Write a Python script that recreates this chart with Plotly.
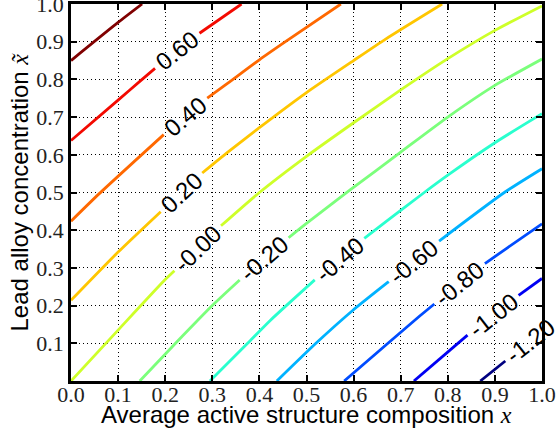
import numpy as np
import plotly.graph_objects as go

# ---------------- data ----------------
levels = [0.8, 0.6, 0.4, 0.2, 0.0, -0.2, -0.4, -0.6, -0.8, -1.0, -1.2]

line_x = [
    [0.0, 0.1, 0.151],
    [0.0, 0.1, 0.151, 0.181, 0.27, 0.362],
    [0.0, 0.06, 0.199, 0.287, 0.333, 0.4, 0.453, 0.573],
    [0.0, 0.1, 0.192, 0.277, 0.333, 0.4, 0.5, 0.6, 0.668, 0.788],
    [0.0, 0.1, 0.2, 0.317, 0.4, 0.5, 0.6, 0.7, 0.8, 0.9, 1.0],
    [0.146, 0.222, 0.3, 0.361, 0.46, 0.5, 0.594, 0.7, 0.8, 0.9, 1.0],
    [0.295, 0.375, 0.4225, 0.52, 0.619, 0.668, 0.75, 0.8, 0.9, 1.0],
    [0.437, 0.52, 0.598, 0.674, 0.778, 0.92, 1.0],
    [0.58, 0.668, 0.741, 0.774, 0.876, 0.925, 1.0],
    [0.728, 0.844, 0.947, 1.0],
    [0.869, 0.924, 1.0],
]
line_y = [
    [0.85, 0.951, 1.0],
    [0.638, 0.745, 0.8, 0.832, 0.92, 1.0],
    [0.424, 0.497, 0.656, 0.748, 0.79, 0.852, 0.898, 1.0],
    [0.214, 0.342, 0.451, 0.55, 0.607, 0.672, 0.765, 0.85, 0.907, 1.0],
    [0.0, 0.135, 0.269, 0.41, 0.5, 0.596, 0.685, 0.772, 0.855, 0.93, 0.995],
    [0.0, 0.1, 0.2, 0.271, 0.378, 0.418, 0.508, 0.607, 0.70, 0.784, 0.854],
    [0.0, 0.1, 0.16, 0.271, 0.375, 0.422, 0.5, 0.546, 0.632, 0.709],
    [0.0, 0.1, 0.187, 0.263, 0.368, 0.5, 0.563],
    [0.0, 0.095, 0.173, 0.207, 0.309, 0.352, 0.417],
    [0.0, 0.124, 0.224, 0.272],
    [0.0, 0.055, 0.13],
]
label_text = [None, "0.60", "0.40", "0.20", "-0.00", "-0.20", "-0.40",
              "-0.60", "-0.80", "-1.00", "-1.20"]
label_x = [None, 0.2255, 0.243, 0.2345, 0.269, 0.41, 0.57, 0.728, 0.825, 0.896, 0.976]

x_ticks = [0.0, 0.1, 0.2, 0.3, 0.4, 0.5, 0.6, 0.7, 0.8, 0.9, 1.0]
x_tick_labels = ["0.0", "0.1", "0.2", "0.3", "0.4", "0.5", "0.6", "0.7", "0.8", "0.9", "1.0"]
y_ticks = [0.1, 0.2, 0.3, 0.4, 0.5, 0.6, 0.7, 0.8, 0.9, 1.0]
y_tick_labels = ["0.1", "0.2", "0.3", "0.4", "0.5", "0.6", "0.7", "0.8", "0.9", "1.0"]

x_title = ("Average active structure composition "
           "<span style='font-family:Liberation Serif'><i>x</i></span>")
y_title = ("Lead alloy concentration "
           "<span style='font-family:Liberation Serif'><i>x\u0303</i></span>")

# ---------------- layout geometry ----------------
W, H = 558, 436
ML, MR, MT, MB = 71, 16, 4, 55
PW, PH = W - ML - MR, H - MT - MB
LABEL_SIZE = 24
SANS = "Liberation Sans, Arial, Helvetica, sans-serif"
SERIF = "Liberation Serif, Times New Roman, serif"


def jet(t):
    def seg(pts):
        xs = [p[0] for p in pts]
        ys = [p[1] for p in pts]
        return float(np.interp(t, xs, ys))
    r = seg([(0, 0), (0.35, 0), (0.66, 1), (0.89, 1), (1, 0.5)])
    g = seg([(0, 0), (0.125, 0), (0.375, 1), (0.64, 1), (0.91, 0), (1, 0)])
    b = seg([(0, 0.5), (0.11, 1), (0.34, 1), (0.65, 0), (1, 0)])
    return "rgb(%d,%d,%d)" % (round(r * 255), round(g * 255), round(b * 255))


def text_width(s, size):
    w = {"-": 0.333, ".": 0.278}
    return sum(w.get(c, 0.556) for c in s) * size


def split_line(xs, ys, cx, half):
    xs = np.asarray(xs, float)
    ys = np.asarray(ys, float)
    px, py = xs * PW, ys * PH
    s = np.concatenate([[0.0], np.cumsum(np.hypot(np.diff(px), np.diff(py)))])
    cy = float(np.interp(cx, xs, ys))
    i = int(np.clip(np.searchsorted(xs, cx) - 1, 0, len(xs) - 2))
    s0 = s[i] + np.hypot(cx * PW - px[i], cy * PH - py[i])
    a, b = s0 - half, s0 + half

    def at(sv):
        return float(np.interp(sv, s, xs)), float(np.interp(sv, s, ys))

    outx, outy = [], []
    for k in range(len(xs)):
        if s[k] < a:
            outx.append(xs[k]); outy.append(ys[k])
    ax_, ay_ = at(a)
    outx.append(ax_); outy.append(ay_)
    outx.append(None); outy.append(None)
    if b < s[-1]:
        bx_, by_ = at(b)
        outx.append(bx_); outy.append(by_)
        for k in range(len(xs)):
            if s[k] > b:
                outx.append(xs[k]); outy.append(ys[k])
        ang = np.degrees(np.arctan2((by_ - ay_) * PH, (bx_ - ax_) * PW))
    else:
        ang = np.degrees(np.arctan2(py[-1] - py[-2], px[-1] - px[-2]))
    return outx, outy, cy, ang


fig = go.Figure()
annotations = []
vmin, vmax = min(levels), max(levels)
for lev, xs, ys, lt, lx in zip(levels, line_x, line_y, label_text, label_x):
    col = jet((lev - vmin) / (vmax - vmin))
    if lt is not None:
        half = text_width(lt, LABEL_SIZE) / 2 + 5
        dx, dy, cy, ang = split_line(xs, ys, lx, half)
        annotations.append(dict(
            x=lx, y=cy, xref="x", yref="y", text=lt, showarrow=False,
            textangle=-ang, font=dict(family=SANS, size=LABEL_SIZE, color="black"),
            xanchor="center", yanchor="middle"))
    else:
        dx, dy = list(xs), list(ys)
    fig.add_trace(go.Scatter(
        x=dx, y=dy, mode="lines", line=dict(color=col, width=2.8, shape="spline", smoothing=0.6),
        showlegend=False, hoverinfo="skip", cliponaxis=True))

# axis titles as paper annotations for exact placement
annotations.append(dict(x=0.5, y=0, xref="paper", yref="paper", text=x_title,
                        showarrow=False, xanchor="center", yanchor="middle", yshift=-33,
                        font=dict(family=SANS, size=24, color="black")))
annotations.append(dict(x=0, y=0.5, xref="paper", yref="paper", text=y_title,
                        showarrow=False, xanchor="center", yanchor="middle", xshift=-52,
                        textangle=-90, font=dict(family=SANS, size=24, color="black")))

axis_common = dict(
    range=[0, 1], showgrid=True, gridcolor="black", gridwidth=1, griddash="1px,3px",
    zeroline=False, showline=True, linecolor="black", linewidth=2.5, mirror="ticks",
    ticks="inside", ticklen=6, tickwidth=2, tickcolor="black", automargin=False,
    ticklabeloverflow="allow",
    tickfont=dict(family=SERIF, size=22, color="#222"),
)

fig.update_layout(
    width=W, height=H, margin=dict(l=ML, r=MR, t=MT, b=MB),
    paper_bgcolor="white", plot_bgcolor="white",
    annotations=annotations,
    xaxis=dict(**axis_common, tickvals=x_ticks, ticktext=x_tick_labels, ticklabelstandoff=-8),
    yaxis=dict(**axis_common, tickvals=y_ticks, ticktext=y_tick_labels),
)

fig.write_html("out.html", post_script="document.body.style.margin='0px';",
               config={"displayModeBar": False})
